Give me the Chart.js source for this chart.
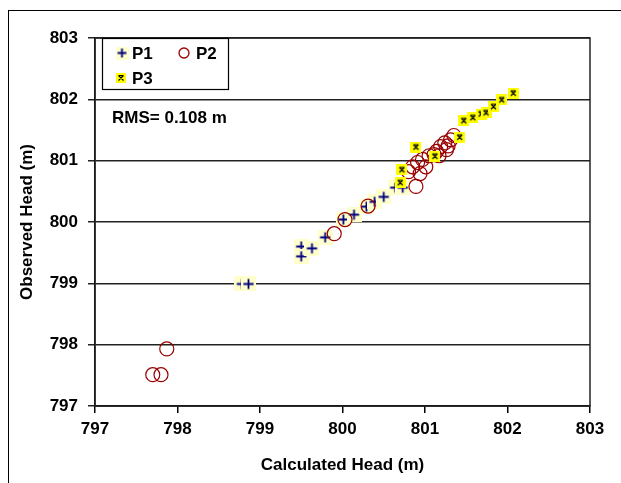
<!DOCTYPE html>
<html>
<head>
<meta charset="utf-8">
<script src="https://cdn.jsdelivr.net/npm/chart.js@4.4.1/dist/chart.umd.min.js"></script>
<style>
  html, body { margin: 0; padding: 0; background: #fff; }
  #wrap { width: 621px; height: 483px; }
</style>
</head>
<body>
<div id="wrap"><canvas id="chart" width="621" height="483"></canvas></div>
<script>
// Axis range and ticks
const axisMin = 797;
const axisMax = 803;
const tickStep = 1;

// P1 (calculated, observed)
const p1Calc = [798.78, 798.86, 799.50, 799.50, 799.63, 799.79, 800.01, 800.14, 800.29, 800.39, 800.50, 800.64, 800.73];
const p1Obs  = [798.99, 798.99, 799.60, 799.44, 799.57, 799.75, 800.04, 800.12, 800.25, 800.33, 800.41, 800.56, 800.56];

// P2
const p2Calc = [797.70, 797.80, 797.87, 799.90, 800.03, 800.31, 800.89, 800.80, 800.85, 800.91, 800.97, 801.01, 800.94,
                801.05, 801.11, 801.14, 801.19, 801.24, 801.28, 801.31, 801.35, 801.26, 801.17];
const p2Obs  = [797.51, 797.51, 797.93, 799.81, 800.04, 800.26, 800.58, 800.82, 800.90, 800.97, 801.02, 800.90, 800.79,
                801.08, 801.10, 801.15, 801.23, 801.29, 801.24, 801.34, 801.41, 801.18, 801.08];

// P3
const p3Calc = [800.70, 800.72, 800.89, 801.12, 801.42, 801.47, 801.58, 801.68, 801.74, 801.83, 801.93, 802.07];
const p3Obs  = [800.64, 800.85, 801.22, 801.07, 801.38, 801.65, 801.70, 801.76, 801.78, 801.88, 801.99, 802.10];

const rmsText = 'RMS= 0.108 m';

const FONT = "'Liberation Sans', Arial, sans-serif";

function toPoints(xs, ys) {
    return xs.map((x, i) => ({ x: x, y: ys[i] }));
}

// marker images
function plusMarker(size) {
    const c = document.createElement('canvas');
    c.width = size; c.height = size;
    const g = c.getContext('2d');
    g.fillStyle = '#ffffcc';
    g.fillRect(0, 0, size, size);
    g.strokeStyle = '#000080';
    g.lineWidth = 1.8;
    const m = size / 2, a = size * 0.34;
    g.beginPath();
    g.moveTo(m - a, m); g.lineTo(m + a, m);
    g.moveTo(m, m - a); g.lineTo(m, m + a);
    g.stroke();
    return c;
}

function starMarker(size) {
    const c = document.createElement('canvas');
    c.width = size; c.height = size;
    const g = c.getContext('2d');
    g.fillStyle = '#ffff00';
    g.fillRect(0, 0, size, size);
    g.strokeStyle = '#000';
    g.lineWidth = 1.2;
    const m = size / 2, a = 2.5;
    g.beginPath();
    g.moveTo(m - a, m - a); g.lineTo(m + a, m + a);
    g.moveTo(m + a, m - a); g.lineTo(m - a, m + a);
    g.moveTo(m - a, m - a); g.lineTo(m + a, m - a);
    g.stroke();
    return c;
}

const p1Img = plusMarker(15);
const p3Img = starMarker(11);
const p1Legend = plusMarker(13);
const p3Legend = starMarker(10);

// frame, plot border, legend box and RMS note
const decorPlugin = {
    id: 'decor',
    beforeDraw(chart) {
        const ctx = chart.ctx;
        ctx.save();
        ctx.fillStyle = '#fff';
        ctx.fillRect(0, 0, chart.width, chart.height);
        ctx.strokeStyle = '#000';
        ctx.lineWidth = 1;
        ctx.strokeRect(8.5, 10.5, chart.width + 20, chart.height + 20);
        ctx.restore();
    },
    afterDraw(chart) {
        const ctx = chart.ctx;
        const a = chart.chartArea;
        ctx.save();
        ctx.strokeStyle = '#222';
        ctx.lineWidth = 1.5;
        ctx.strokeRect(a.left, a.top, a.right - a.left, a.bottom - a.top);

        // legend box
        ctx.fillStyle = '#fff';
        ctx.fillRect(102, 38, 126, 51);
        ctx.lineWidth = 1.2;
        ctx.strokeStyle = '#000';
        ctx.strokeRect(102.5, 38.5, 126, 51);

        ctx.drawImage(p1Legend, 122 - 6.5, 53 - 6.5);
        ctx.beginPath();
        ctx.strokeStyle = '#990000';
        ctx.lineWidth = 1.3;
        ctx.arc(184, 53, 5, 0, Math.PI * 2);
        ctx.stroke();
        ctx.drawImage(p3Legend, 121 - 5, 78 - 5);

        ctx.fillStyle = '#000';
        ctx.font = 'bold 17px ' + FONT;
        ctx.textBaseline = 'middle';
        ctx.textAlign = 'left';
        ctx.fillText('P1', 132, 54);
        ctx.fillText('P2', 196, 54);
        ctx.fillText('P3', 132, 79);

        ctx.fillText(rmsText, 112, 118);
        ctx.restore();
    }
};

const ctx = document.getElementById('chart').getContext('2d');
const chart = new Chart(ctx, {
    type: 'scatter',
    data: {
        datasets: [{
            label: 'P1',
            data: toPoints(p1Calc, p1Obs),
            pointStyle: p1Img,
            order: 3
        }, {
            label: 'P2',
            data: toPoints(p2Calc, p2Obs),
            pointStyle: 'circle',
            pointRadius: 7,
            borderColor: '#990000',
            backgroundColor: 'rgba(0,0,0,0)',
            borderWidth: 1.2,
            order: 2
        }, {
            label: 'P3',
            data: toPoints(p3Calc, p3Obs),
            pointStyle: p3Img,
            order: 1
        }]
    },
    options: {
        responsive: false,
        animation: false,
        events: [],
        layout: { padding: { left: 0, right: 31, top: 38, bottom: 0 } },
        plugins: {
            legend: { display: false },
            tooltip: { enabled: false }
        },
        scales: {
            x: {
                type: 'linear',
                min: axisMin,
                max: axisMax,
                afterFit: (scale) => { scale.height = 77; },
                ticks: {
                    stepSize: tickStep,
                    color: '#000',
                    padding: 6,
                    maxRotation: 0,
                    font: { family: FONT, size: 17, weight: 'bold' }
                },
                grid: { drawOnChartArea: false, tickLength: 7, color: '#000', lineWidth: 1.5 },
                border: { display: true, color: '#000', width: 1.5 },
                title: {
                    display: true,
                    text: 'Calculated Head (m)',
                    color: '#000',
                    font: { family: FONT, size: 17, weight: 'bold' },
                    padding: { top: 0, bottom: 7 }
                }
            },
            y: {
                type: 'linear',
                min: axisMin,
                max: axisMax,
                afterFit: (scale) => { scale.width = 95; },
                ticks: {
                    stepSize: tickStep,
                    color: '#000',
                    padding: 10,
                    font: { family: FONT, size: 17, weight: 'bold' }
                },
                grid: { tickLength: 7, color: '#222', lineWidth: 1.5 },
                border: { display: true, color: '#000', width: 1.5 },
                title: {
                    display: true,
                    text: 'Observed Head (m)',
                    color: '#000',
                    font: { family: FONT, size: 17, weight: 'bold' },
                    padding: { top: 17, bottom: 0 }
                }
            }
        }
    },
    plugins: [decorPlugin]
});
</script>
</body>
</html>
